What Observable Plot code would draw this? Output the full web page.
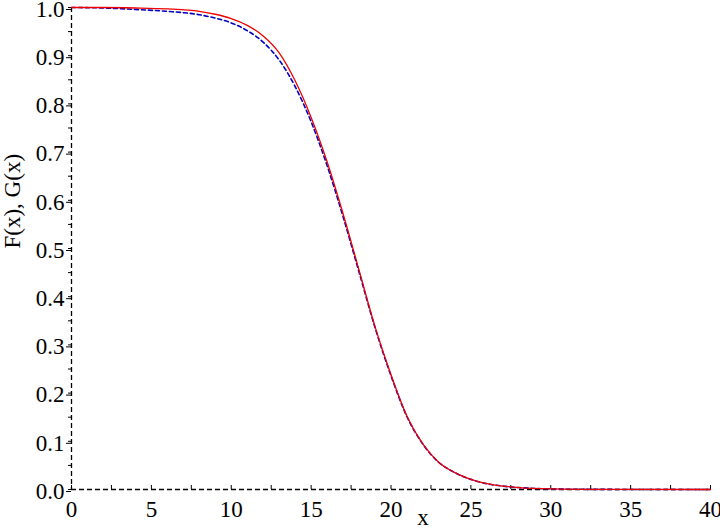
<!DOCTYPE html>
<html>
<head>
<meta charset="utf-8">
<script src="https://cdn.jsdelivr.net/npm/d3@7"></script>
<script src="https://cdn.jsdelivr.net/npm/@observablehq/plot@0.6"></script>
<style>
  html, body { margin: 0; padding: 0; background: white; }
</style>
</head>
<body>
<div id="chart"></div>
<script>
const xs = [0, 2, 4, 6, 8, 9, 10, 11, 12, 13, 14, 15, 16, 17, 18, 19, 20, 21, 22, 23, 24, 25, 26, 27, 28, 30, 32, 35, 40];
const fVals = [1.0, 1.0, 0.999, 0.997, 0.992, 0.986, 0.977, 0.963, 0.941, 0.906, 0.848, 0.772, 0.68, 0.572, 0.455, 0.338, 0.238, 0.152, 0.094, 0.056, 0.035, 0.021, 0.012, 0.007, 0.004, 0.0012, 0.0004, 0.0001, 0];
const gVals = [1.0, 0.999, 0.996, 0.992, 0.985, 0.978, 0.968, 0.952, 0.928, 0.891, 0.836, 0.763, 0.672, 0.566, 0.451, 0.336, 0.236, 0.151, 0.094, 0.056, 0.035, 0.021, 0.012, 0.007, 0.004, 0.0012, 0.0004, 0.0001, 0];
const xTickLabels = [0, 5, 10, 15, 20, 25, 30, 35, 40];
const xTickMarks = d3.range(0, 40.01, 2.5);
const yTickLabels = d3.range(0, 10.5, 1).map(d => d / 10);
const yMinorTicks = d3.range(0, 20.5, 1).map(d => d / 20);
const yTitle = "F(x), G(x)";
const xTitle = "x";
const xTitlePos = 22;

const fData = xs.map((x, i) => ({x, y: fVals[i]}));
const gData = xs.map((x, i) => ({x, y: gVals[i]}));

const chart = Plot.plot({
  width: 720,
  height: 527,
  marginLeft: 71,
  marginRight: 10,
  marginTop: 7,
  marginBottom: 38,
  x: {domain: [0, 40]},
  y: {domain: [0, 1]},
  style: {fontFamily: "'Liberation Serif', 'Times New Roman', serif", fontSize: "23px", background: "white", color: "black"},
  marks: [
    Plot.ruleX([0], {stroke: "black", strokeWidth: 1.3, strokeDasharray: "5,3"}),
    Plot.ruleY([0], {stroke: "black", strokeWidth: 1.3, strokeDasharray: "5,3"}),
    Plot.axisY({ticks: yTickLabels, tickSize: 5, tickPadding: 2, tickFormat: d3.format(".1f"), label: null, fontSize: 23, stroke: "black", dy: 2}),
    Plot.axisY({ticks: yMinorTicks, tickSize: 3, tickFormat: () => "", label: null, stroke: "black"}),
    Plot.axisX({ticks: xTickMarks, tickSize: -4, tickFormat: () => "", label: null, stroke: "black"}),
    Plot.axisX({ticks: xTickLabels, tickSize: 0, tickPadding: 11, label: null, fontSize: 23}),
    Plot.line(gData, {x: "x", y: "y", stroke: "#0000c0", strokeWidth: 1.6, strokeDasharray: "4,3", curve: "monotone-x"}),
    Plot.line(fData, {x: "x", y: "y", stroke: "#ee0000", strokeWidth: 1.3, curve: "monotone-x"}),
    Plot.text([yTitle], {frameAnchor: "left", y: () => 0.5, rotate: -90, dx: -59, fontSize: 23}),
    Plot.text([xTitle], {x: () => xTitlePos, y: () => 0, dy: 28, fontSize: 23})
  ]
});
document.getElementById("chart").appendChild(chart);
</script>
</body>
</html>
